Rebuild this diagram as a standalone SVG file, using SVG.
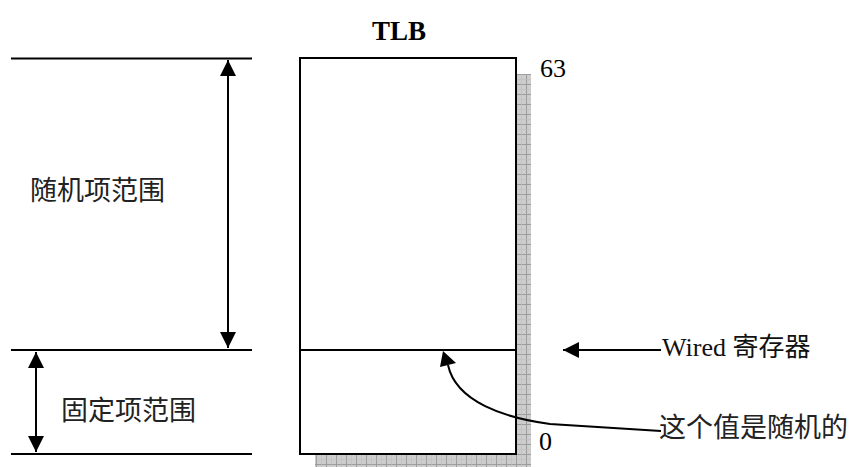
<svg xmlns="http://www.w3.org/2000/svg" width="855" height="467" viewBox="0 0 855 467">
<defs>
<pattern id="grid" width="10" height="10" patternUnits="userSpaceOnUse" x="316" y="74">
<rect width="10" height="10" fill="#cdcdcd"/>
<path d="M0 0.5H10M0.5 0V10" stroke="#9c9c9c" stroke-width="1" fill="none"/>
<path d="M0 5.5H10M5.5 0V10" stroke="#bdbdbd" stroke-width="0.6" fill="none"/>
</pattern>
<marker id="ahL" viewBox="0 0 16 16" refX="16" refY="8" markerWidth="16" markerHeight="16" markerUnits="userSpaceOnUse" orient="auto-start-reverse">
<path d="M0 0L16 8L0 16Z" fill="#000"/>
</marker>
<style>
.ln{stroke:#000;stroke-width:2;fill:none}
.num{font-family:"Liberation Serif",serif;font-size:26px;fill:#000}
.cn{font-family:"Liberation Serif","Noto Sans CJK SC",serif;font-size:26px;fill:#111}
.lt{font-family:"Noto Sans CJK SC",sans-serif;font-size:27px;fill:#222}
</style>
</defs>
<g id="shadow">
<rect x="516" y="74" width="15" height="393" fill="url(#grid)"/>
<rect x="315" y="455" width="216" height="12" fill="url(#grid)"/>
</g>
<g id="tlb">
<rect x="300" y="58" width="216" height="396" fill="#fff" stroke="#000" stroke-width="2"/>
<line x1="300" y1="350" x2="516" y2="350" stroke="#000" stroke-width="2"/>
<text x="399" y="40" text-anchor="middle" font-family="Liberation Serif" font-weight="bold" font-size="27">TLB</text>
<text x="540" y="77" class="num">63</text>
<text x="539" y="450" class="num">0</text>
</g>
<g id="guides">
<line x1="11" y1="58.5" x2="252" y2="58.5" class="ln"/>
<line x1="11" y1="350" x2="252" y2="350" class="ln"/>
<line x1="11" y1="454" x2="252" y2="454" class="ln"/>
</g>
<g id="random-range">
<text x="30" y="200" class="lt">随机项范围</text>
</g>
<g id="fixed-range">
<text x="61" y="420" class="lt">固定项范围</text>
</g>
<g id="wired">
<text x="662" y="356" class="cn">Wired 寄存器</text>
</g>
<g id="random-value">
<text x="659" y="437" class="lt">这个值是随机的</text>
</g>
<g id="connectors">
<line x1="228" y1="60" x2="228" y2="348" class="ln" marker-start="url(#ahL)" marker-end="url(#ahL)"/>
<line x1="36" y1="352" x2="36" y2="452" class="ln" marker-start="url(#ahL)" marker-end="url(#ahL)"/>
<line x1="661" y1="350" x2="563" y2="350" class="ln" marker-end="url(#ahL)"/>
<path d="M661 431 Q600 427 550 424 C505 418 456 402 448 365" class="ln"/>
<path d="M443 351 L440 367 L456 363 Z" fill="#000"/>
</g>
</svg>
